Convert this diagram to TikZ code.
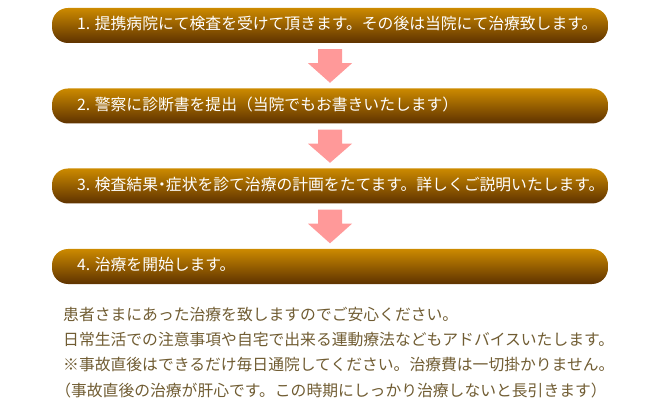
\documentclass[tikz,border=0pt]{standalone}
\usepackage{fontspec}
\newfontfamily\jp{Noto Sans CJK JP}
\usetikzlibrary{calc}
\definecolor{bartop}{RGB}{204,138,0}
\definecolor{barbot}{RGB}{94,50,0}
\definecolor{arrowpink}{RGB}{255,153,153}
\definecolor{notebrown}{RGB}{112,92,50}
\begin{document}
\begin{tikzpicture}[x=1pt,y=-1pt,
  bar/.style={rounded corners=16pt, minimum width=556pt, minimum height=35pt,
    inner sep=0pt, top color=bartop, bottom color=barbot, draw=none},
  bartext/.style={anchor=west, inner sep=0pt, text=white,
    font=\jp\fontsize{15.8}{19}\selectfont},
  note/.style={anchor=west, inner sep=0pt, text=notebrown,
    font=\jp\fontsize{15.8}{19}\selectfont},
  downarrow/.style={fill=arrowpink, draw=none}]
\useasboundingbox (0,0) rectangle (660,419);

\node[bar] (b1) at (330,25.5) {};
\node[bar] (b2) at (330,106) {};
\node[bar] (b3) at (330,186) {};
\node[bar] (b4) at (330,266.5) {};

\node[bartext] (t1) at ($(b1.west)+(25,-1.5)$) {1. 提携病院にて検査を受けて頂きます。その後は当院にて治療致します。};
\node[bartext] (t2) at ($(b2.west)+(25,-1.5)$) {2. 警察に診断書を提出（当院でもお書きいたします）};
\node[bartext] (t3) at ($(b3.west)+(25,-1.5)$) {3. 検査結果\kern-0.25em・\kern-0.25em症状を診て治療の計画をたてます。詳しくご説明いたします。};
\node[bartext] (t4) at ($(b4.west)+(25,-1.5)$) {4. 治療を開始します。};

\foreach \a/\b in {b1/b2, b2/b3, b3/b4}{
  \path[downarrow] ($(\a.south)+(-12,6)$) -- ($(\a.south)+(12,6)$)
    -- ($(\a.south)+(12,20)$) -- ($(\a.south)+(22,20)$)
    -- ($(\b.north)+(0,-5.5)$)
    -- ($(\a.south)+(-22,20)$) -- ($(\a.south)+(-12,20)$) -- cycle;
}

\node[note] (n1) at (63,314) {患者さまにあった治療を致しますのでご安心ください。};
\node[note] (n2) at (63,339.5) {日常生活での注意事項や自宅で出来る運動療法などもアドバイスいたします。};
\node[note] (n3) at (63,365) {※事故直後はできるだけ毎日通院してください。治療費は一切掛かりません。};
\node[note] (n4) at (63,390.5) {\kern-0.5em（事故直後の治療が肝心です。この時期にしっかり治療しないと長引きます）};
\end{tikzpicture}
\end{document}
